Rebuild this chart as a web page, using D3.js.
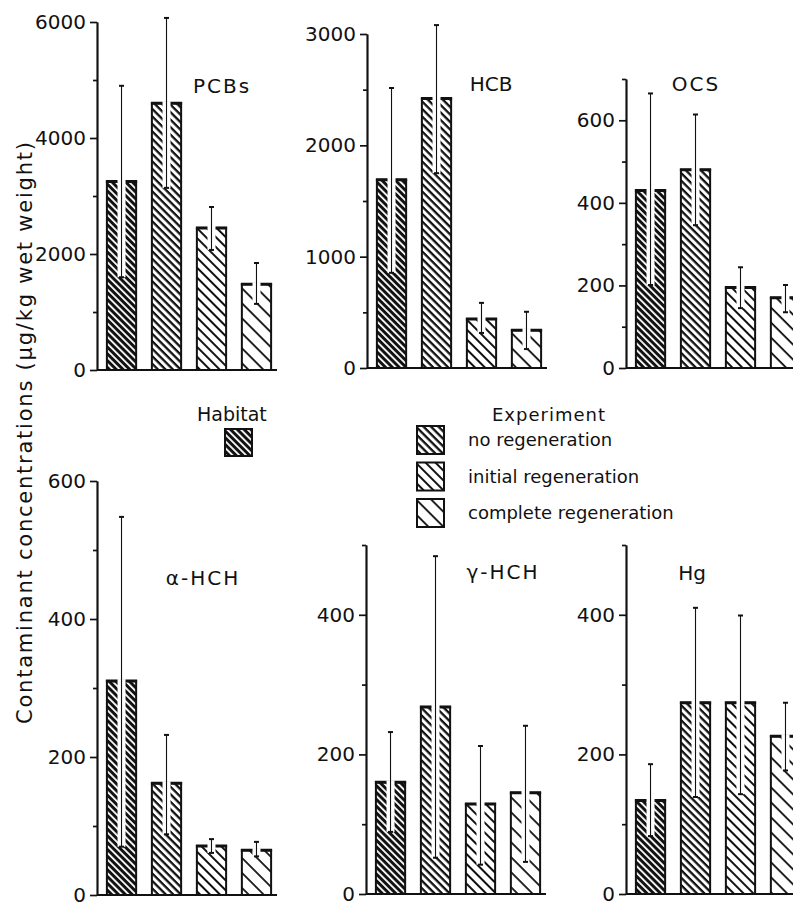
<!DOCTYPE html>
<html>
<head>
<meta charset="utf-8">
<script src="https://cdn.jsdelivr.net/npm/d3@7"></script>
<style>
  body { margin: 0; background: #fff; }
  svg { display: block; }
  text { font-family: "DejaVu Sans", sans-serif; fill: #111; }
</style>
</head>
<body>
<svg id="chart" width="793" height="907"></svg>
<script>
// groups (bar order inside each panel)
const groups = ["Habitat", "no regeneration", "initial regeneration", "complete regeneration"];
const contaminants = ["PCBs", "HCB", "OCS", "α-HCH", "γ-HCH", "Hg"];

// mean values, one row per contaminant (µg/kg wet weight)
const meanValues = [
    [3250, 4600, 2450, 1480],
    [1690, 2420, 440, 340],
    [430, 480, 195, 170],
    [310, 162, 71, 65],
    [160, 268, 129, 145],
    [134, 274, 274, 226]
];
// error bar ends
const errUpper = [
    [4900, 6070, 2810, 1845],
    [2515, 3080, 585, 505],
    [665, 614, 244, 201],
    [548, 232, 81, 77],
    [232, 484, 212, 241],
    [186, 410, 399, 274]
];
const errLower = [
    [1600, 3140, 2070, 1140],
    [855, 1750, 315, 170],
    [201, 346, 145, 135],
    [70, 88, 61, 56],
    [89, 52, 42, 46],
    [83, 139, 143, 177]
];

// axes
const axisMax = [6000, 3000, 700, 600, 500, 500];
const tickLabels = [
    [0, 2000, 4000, 6000],
    [0, 1000, 2000, 3000],
    [0, 200, 400, 600],
    [0, 200, 400, 600],
    [0, 200, 400],
    [0, 200, 400]
];
const minorStep = [1000, 500, 100, 100, 100, 100];

// panel layout (pixels)
const panels = [
    {ax: 97,  y0: 370, y1: 22,  tx: 222, ty: 93},
    {ax: 367, y0: 368, y1: 34,  tx: 491, ty: 91},
    {ax: 626, y0: 368, y1: 79,  tx: 696, ty: 91},
    {ax: 97,  y0: 895, y1: 481, tx: 203, ty: 585},
    {ax: 366, y0: 894, y1: 545, tx: 503, ty: 579},
    {ax: 626, y0: 894, y1: 545, tx: 692, ty: 580}
];

// hatch styles: spacing and stroke width, perpendicular to the lines
const hatch = [
    {gap: 4.8, w: 3.0},
    {gap: 5.3, w: 2.3},
    {gap: 7.0, w: 2.0},
    {gap: 10.6, w: 1.8}
];

const svg = d3.select("#chart");
const defs = svg.append("defs");

hatch.forEach((h, i) => {
    const p = defs.append("pattern")
        .attr("id", "hatch" + i)
        .attr("patternUnits", "userSpaceOnUse")
        .attr("width", 20)
        .attr("height", h.gap)
        .attr("patternTransform", "rotate(45)");
    p.append("rect")
        .attr("width", 20).attr("height", h.gap)
        .attr("fill", "#fff");
    p.append("rect")
        .attr("width", 20).attr("height", h.w)
        .attr("fill", "#111");
});

// y-axis title
svg.append("text")
    .attr("transform", "translate(32,433) rotate(-90)")
    .attr("text-anchor", "middle")
    .attr("font-size", "21px")
    .attr("textLength", 582)
    .attr("lengthAdjust", "spacing")
    .text("Contaminant concentrations (µg/kg wet weight)");

panels.forEach((pn, k) => {
    const g = svg.append("g");

    const y = d3.scaleLinear().domain([0, axisMax[k]]).range([pn.y0, pn.y1]);
    const x = d3.scaleBand().domain(groups)
        .range([pn.ax, pn.ax + 184])
        .paddingInner(0.35)
        .paddingOuter(0.22);

    // minor ticks
    const minor = d3.range(minorStep[k], axisMax[k] + 1, minorStep[k])
        .filter(v => !tickLabels[k].includes(v));
    g.append("g")
        .attr("transform", `translate(${pn.ax},0)`)
        .call(d3.axisLeft(y).tickValues(minor).tickSize(4).tickSizeOuter(0).tickFormat(""))
        .call(a => a.selectAll("line,path").attr("stroke", "#111").attr("stroke-width", 1.7));

    // major ticks + labels
    g.append("g")
        .attr("transform", `translate(${pn.ax},0)`)
        .call(d3.axisLeft(y).tickValues(tickLabels[k]).tickSize(7).tickSizeOuter(0)
            .tickPadding(4).tickFormat(d3.format("d")))
        .call(a => {
            a.selectAll("line,path").attr("stroke", "#111").attr("stroke-width", 1.7);
            a.selectAll("text")
                .attr("font-size", "20px")
                .attr("font-family", "DejaVu Sans, sans-serif")
                .attr("fill", "#111");
        });

    // baseline
    g.append("line")
        .attr("x1", pn.ax).attr("x2", pn.ax + 180)
        .attr("y1", y(0)).attr("y2", y(0))
        .attr("stroke", "#111").attr("stroke-width", 1.8);

    const data = groups.map((grp, i) => ({
        grp, i,
        mean: meanValues[k][i],
        hi: errUpper[k][i],
        lo: errLower[k][i]
    }));

    const bars = g.selectAll(".bar").data(data).enter().append("g").attr("class", "bar");

    bars.append("rect")
        .attr("x", d => x(d.grp))
        .attr("y", d => y(d.mean))
        .attr("width", x.bandwidth())
        .attr("height", d => y(0) - y(d.mean))
        .attr("fill", d => `url(#hatch${d.i})`)
        .attr("stroke", "#111")
        .attr("stroke-width", 2);

    // heavier top edge
    bars.append("line")
        .attr("x1", d => x(d.grp) - 1)
        .attr("x2", d => x(d.grp) + x.bandwidth() + 1)
        .attr("y1", d => y(d.mean)).attr("y2", d => y(d.mean))
        .attr("stroke", "#111").attr("stroke-width", 3);

    // white gap where the error bar runs inside the bar
    bars.filter(d => d.lo < d.mean).append("rect")
        .attr("x", d => x(d.grp) + x.bandwidth() / 2 - 4)
        .attr("y", d => y(d.mean) - 2)
        .attr("width", 8)
        .attr("height", d => y(d.lo) - y(d.mean) + 2)
        .attr("fill", "#fff");

    const cx = d => x(d.grp) + x.bandwidth() / 2;
    bars.append("line")
        .attr("x1", cx).attr("x2", cx)
        .attr("y1", d => y(d.hi)).attr("y2", d => y(d.lo))
        .attr("stroke", "#111").attr("stroke-width", 1.1);
    ["hi", "lo"].forEach(key => {
        bars.append("line")
            .attr("x1", d => cx(d) - 2.5).attr("x2", d => cx(d) + 2.5)
            .attr("y1", d => y(d[key])).attr("y2", d => y(d[key]))
            .attr("stroke", "#111").attr("stroke-width", 2);
    });

    // panel title
    g.append("text")
        .attr("x", pn.tx).attr("y", pn.ty)
        .attr("text-anchor", "middle")
        .attr("font-size", "20px")
        .attr("letter-spacing", k === 1 || k === 5 ? "0px" : "2px")
        .text(contaminants[k]);
});

// legend
const legend = svg.append("g");
legend.append("text").attr("x", 197).attr("y", 421)
    .attr("font-size", "19px").text("Habitat");
legend.append("rect")
    .attr("x", 225).attr("y", 429).attr("width", 27).attr("height", 27)
    .attr("fill", "url(#hatch0)").attr("stroke", "#111").attr("stroke-width", 2);

legend.append("text").attr("x", 492).attr("y", 421)
    .attr("font-size", "18px").attr("letter-spacing", "1px").text("Experiment");

const legendRows = legend.selectAll(".row").data(groups.slice(1)).enter()
    .append("g").attr("class", "row")
    .attr("transform", (d, i) => `translate(417,${426 + i * 36.5})`);
legendRows.append("rect")
    .attr("width", 27).attr("height", 28)
    .attr("fill", (d, i) => `url(#hatch${i + 1})`)
    .attr("stroke", "#111").attr("stroke-width", 2);
legendRows.append("text")
    .attr("x", 51).attr("y", 20)
    .attr("font-size", "18px")
    .text(d => d);
</script>
</body>
</html>
